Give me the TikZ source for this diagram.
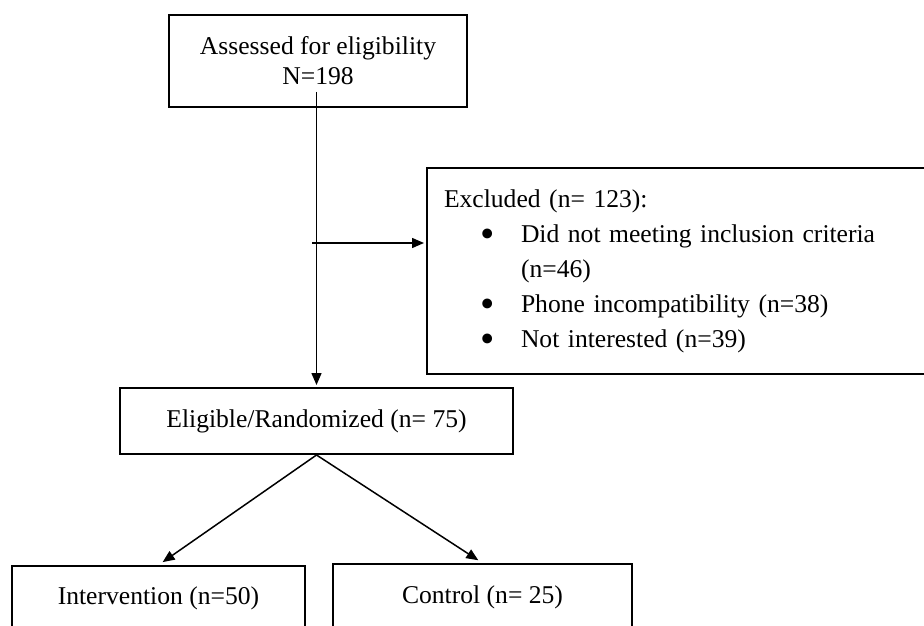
\documentclass[tikz,border=0pt]{standalone}
\usepackage{fontspec}
\setmainfont{Liberation Serif}
\usepackage{tikz}
\usetikzlibrary{arrows.meta, positioning, calc}
\definecolor{inkdark}{RGB}{0,0,0}
\tikzset{
  block/.style={rectangle, draw=inkdark, fill=white, align=center,
    inner sep=0pt, line width=1pt, font=\fontsize{12.8}{15}\selectfont},
  arrow/.style={-{Triangle[length=6pt,width=5pt]}, line width=0.75pt, color=inkdark},
  line/.style={line width=0.75pt, color=inkdark}
}
\newcommand{\xitem}[1]{\hspace*{18pt}\makebox[20.5pt][l]{\raisebox{-0.45ex}[0pt][0pt]{\scalebox{1.6}{\textbullet}}}#1}

\begin{document}
\begin{tikzpicture}[x=0.5pt, y=-0.5pt]
    \useasboundingbox (0,0) rectangle (924,625);
    \clip (0,0) rectangle (924,625);

    % Screening
    \node[block, minimum width=149pt, minimum height=46pt] (assess) at (318,61)
      {Assessed for eligibility\\N=198};

    % Exclusions
    \node[block, anchor=north west, align=left, text width=300pt, inner xsep=8.5pt,
      minimum height=103pt, font=\fontsize{12.8}{17.5}\selectfont] (excl) at (426,167)
      {Excluded (n= 123):\\
       \xitem{Did not meeting inclusion criteria}\\
       \hspace*{38.5pt}(n=46)\\
       \xitem{Phone incompatibility (n=38)}\\
       \xitem{Not interested (n=39)}};

    % Randomization
    \node[block, minimum width=196.5pt, minimum height=33pt] (elig) at (316.5,421)
      {Eligible/Randomized (n= 75)};

    % Groups
    \node[block, minimum width=146.5pt, minimum height=32pt] (intv) at (158.5,598)
      {Intervention (n=50)};
    \node[block, minimum width=149.5pt, minimum height=33pt] (ctrl) at (482.5,597)
      {Control (n= 25)};

    % Connectors
    \coordinate (vtop) at (316.5,92);
    \coordinate (hstart) at (312,243);
    \draw[arrow, shorten >=1pt] (vtop) -- (vtop |- elig.north);
    \draw[arrow, shorten >=1pt] (hstart) -- (hstart -| excl.west);
    \draw[arrow, shorten >=2.5pt] (elig.south) -- (intv.north);
    \draw[arrow, shorten >=2.5pt] (elig.south) -- (ctrl.north);
\end{tikzpicture}
\end{document}
